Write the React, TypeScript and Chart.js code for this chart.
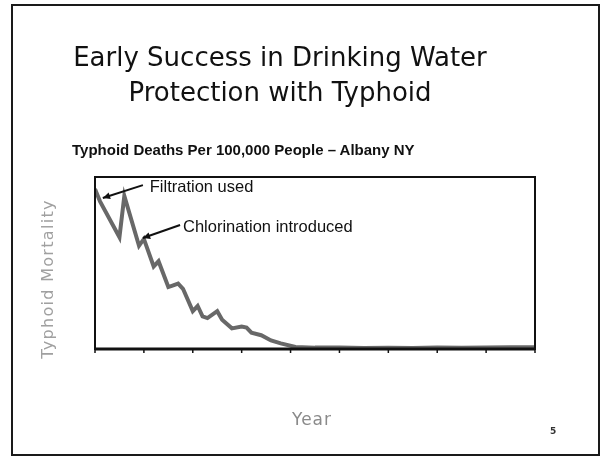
import React, { useEffect, useRef } from "react";
import { Chart, registerables } from "chart.js";

Chart.register(...registerables);

// Data (Albany NY typhoid deaths per 100,000)
const years = [1890, 1891, 1895, 1896, 1899, 1900, 1902, 1903, 1905, 1906, 1907, 1908, 1910, 1911, 1912, 1913, 1915, 1916, 1918, 1920, 1921, 1922, 1924, 1926, 1928, 1931, 1935, 1940, 1945, 1950, 1955, 1960, 1965, 1970, 1975, 1980];
const deaths = [93, 86, 65, 89, 60, 64, 48, 51, 36, 37, 38, 35, 22, 25, 19, 18, 22, 17, 12, 13, 12.5, 9.5, 8, 5, 3.3, 1.2, 0.8, 0.8, 0.6, 0.7, 0.6, 0.8, 0.7, 0.9, 1.0, 1.0];
const xTicks = [1890, 1900, 1910, 1920, 1930, 1940, 1950, 1960, 1970, 1980];

const annoLabels = ["Filtration used", "Chlorination introduced"];
const annoTipX = [1891.6, 1899.8];
const annoTipY = [87.8, 64.5];
const annoTailX = [1899.8, 1907.4];
const annoTailY = [95.3, 72.1];
const annoTextX = [1901.2, 1908.0];
const annoTextY = [94.2, 70.9];

const frame = {
  id: "frame",
  afterDraw(chart: any) {
    const { ctx, chartArea: a, scales } = chart;
    ctx.save();
    ctx.strokeStyle = "#111";
    ctx.lineWidth = 2;
    ctx.strokeRect(a.left, a.top, a.right - a.left, a.bottom - a.top);
    ctx.lineWidth = 3;
    ctx.beginPath();
    ctx.moveTo(a.left, a.bottom);
    ctx.lineTo(a.right, a.bottom);
    ctx.stroke();
    ctx.lineWidth = 1.5;
    for (const t of xTicks) {
      const x = scales.x.getPixelForValue(t);
      ctx.beginPath();
      ctx.moveTo(x, a.bottom);
      ctx.lineTo(x, a.bottom + 4);
      ctx.stroke();
    }
    // annotations
    ctx.fillStyle = "#111";
    ctx.font = "16.5px 'Liberation Sans', Arial, sans-serif";
    ctx.textBaseline = "middle";
    for (let i = 0; i < annoLabels.length; i++) {
      const tx = scales.x.getPixelForValue(annoTipX[i]);
      const ty = scales.y.getPixelForValue(annoTipY[i]);
      const sx = scales.x.getPixelForValue(annoTailX[i]);
      const sy = scales.y.getPixelForValue(annoTailY[i]);
      ctx.lineWidth = 2;
      ctx.beginPath();
      ctx.moveTo(sx, sy);
      ctx.lineTo(tx, ty);
      ctx.stroke();
      const ang = Math.atan2(ty - sy, tx - sx);
      const L = 8;
      ctx.beginPath();
      ctx.moveTo(tx, ty);
      ctx.lineTo(tx - L * Math.cos(ang - 0.45), ty - L * Math.sin(ang - 0.45));
      ctx.lineTo(tx - L * Math.cos(ang + 0.45), ty - L * Math.sin(ang + 0.45));
      ctx.closePath();
      ctx.fill();
      ctx.fillText(annoLabels[i], scales.x.getPixelForValue(annoTextX[i]), scales.y.getPixelForValue(annoTextY[i]));
    }
    ctx.restore();
  },
};

export default function App() {
  const ref = useRef<HTMLCanvasElement | null>(null);
  useEffect(() => {
    if (!ref.current) return;
    const chart = new Chart(ref.current, {
      type: "line",
      data: {
        datasets: [
          {
            data: years.map((y, i) => ({ x: y, y: deaths[i] })),
            borderColor: "#686868",
            borderWidth: 4,
            pointRadius: 0,
            tension: 0,
            fill: false,
          },
        ],
      },
      options: {
        responsive: false,
        animation: false,
        devicePixelRatio: 1,
        layout: { padding: { left: 95, top: 177, right: 67, bottom: 110 } },
        plugins: { legend: { display: false }, tooltip: { enabled: false }, title: { display: false } },
        scales: {
          x: { type: "linear", min: 1890, max: 1980, display: false },
          y: { min: 0, max: 100, display: false },
        },
      },
      plugins: [frame],
    });
    return () => chart.destroy();
  }, []);

  return (
    <div style={{ position: "fixed", left: 0, top: 0, width: 602, height: 459, background: "#fff", overflow: "hidden" }}>
      <canvas ref={ref} width={602} height={459} style={{ position: "absolute", left: 0, top: 0 }} />
      <div style={{ position: "absolute", left: 11, top: 4, width: 585, height: 448, border: "2px solid #1a1a1a" }} />
      <div style={{ position: "absolute", left: 0, top: 40, width: 560, textAlign: "center", fontFamily: "'DejaVu Sans', sans-serif", fontSize: 26, lineHeight: "35px", color: "#111" }}>
        Early Success in Drinking Water
        <br />
        Protection with Typhoid
      </div>
      <div style={{ position: "absolute", left: 72, top: 141, fontFamily: "'Liberation Sans', Arial, sans-serif", fontWeight: "bold", fontSize: 15, color: "#111", whiteSpace: "nowrap" }}>
        Typhoid Deaths Per 100,000 People – Albany NY
      </div>
      <div style={{ position: "absolute", left: 47, top: 279, transform: "translate(-50%, -50%) rotate(-90deg)", fontFamily: "'DejaVu Sans', sans-serif", fontSize: 16, letterSpacing: 1.3, color: "#a0a0a0", whiteSpace: "nowrap" }}>
        Typhoid Mortality
      </div>
      <div style={{ position: "absolute", left: 292, top: 409, fontFamily: "'DejaVu Sans', sans-serif", fontSize: 17, letterSpacing: 1, color: "#8a8a8a", whiteSpace: "nowrap" }}>
        Year
      </div>
      <div style={{ position: "absolute", left: 550, top: 426, fontFamily: "'DejaVu Sans', sans-serif", fontWeight: "bold", fontSize: 9, color: "#333" }}>
        5
      </div>
    </div>
  );
}
